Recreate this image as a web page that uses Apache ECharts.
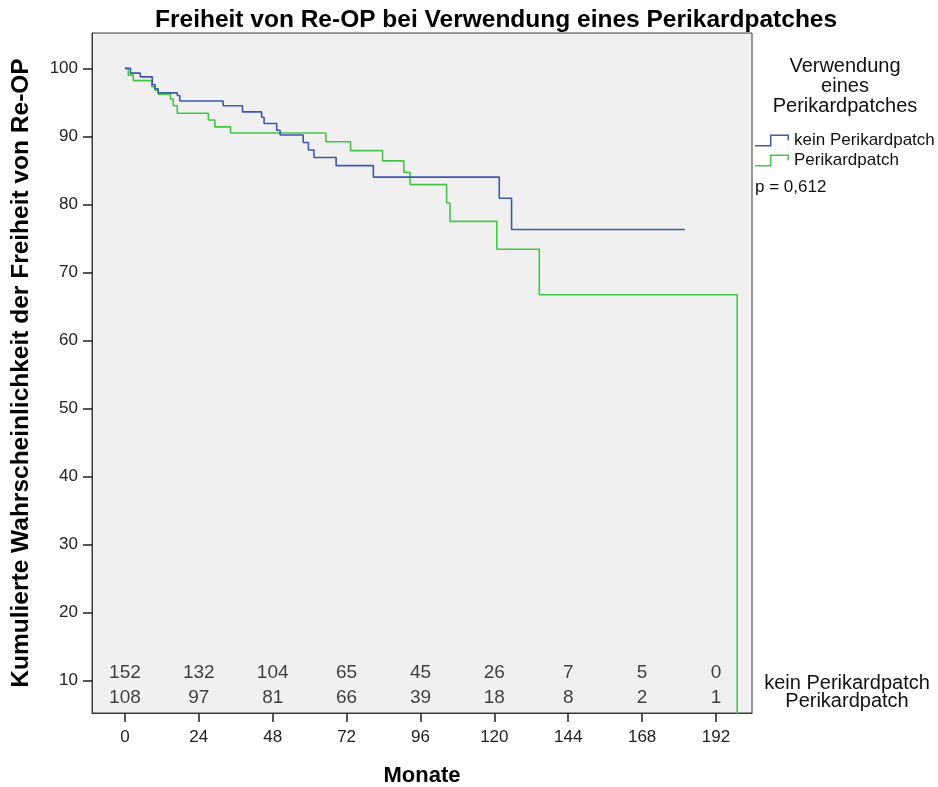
<!DOCTYPE html>
<html><head><meta charset="utf-8">
<script src="https://cdn.jsdelivr.net/npm/echarts@6/dist/echarts.min.js"></script>
<style>html,body{margin:0;padding:0;background:#fff}#c{width:938px;height:787px}</style>
</head><body><div id="c"></div>
<script>
// Kaplan-Meier steps (month of event, survival % after event)
const monthsNoPatch = [0, 1.8, 5.0, 8.9, 9.8, 10.8, 17.0, 17.8, 31.9, 38.2, 44.4, 45.2, 49.3, 50.4, 57.9, 59.6, 61.4, 68.6, 80.7, 121.6, 125.6, 181.9];
const survNoPatch   = [100, 99.3, 98.75, 97.6, 97.0, 96.4, 96.0, 95.2, 94.5, 93.6, 92.8, 91.9, 90.9, 90.2, 89.1, 88.0, 86.9, 85.7, 84.0, 80.9, 76.3, 76.3];
const monthsPatch = [0, 1.1, 2.7, 8.7, 9.7, 10.8, 14.8, 15.7, 17.0, 27.1, 29.2, 34.3, 65.3, 73.3, 83.7, 90.6, 92.6, 104.5, 105.6, 120.8, 134.6, 198.9];
const survPatch   = [100, 99.0, 98.2, 97.3, 96.8, 96.2, 95.5, 94.5, 93.4, 92.4, 91.4, 90.5, 89.2, 87.9, 86.4, 84.7, 82.9, 80.2, 77.5, 73.4, 66.7, 0];

const groupNames = ['kein Perikardpatch', 'Perikardpatch'];
const riskMonths  = [0, 24, 48, 72, 96, 120, 144, 168, 192];
const riskNoPatch = [152, 132, 104, 65, 45, 26, 7, 5, 0];
const riskPatch   = [108, 97, 81, 66, 39, 18, 8, 2, 1];
const xTicks = [0, 24, 48, 72, 96, 120, 144, 168, 192];
const yTicks = [10, 20, 30, 40, 50, 60, 70, 80, 90, 100];

const FONT = 'Liberation Sans, Arial, sans-serif';
const BLUE = '#3d58ac';
const GREEN = '#45c445';

const chart = echarts.init(document.getElementById('c'), null, {renderer: 'canvas'});
const stepIcon = 'path://M0,10.5 H15 V0 H34 V6 H32.5 V1.5 H16.5 V12 H0 Z';

function riskSeries(name, counts, yPos) {
  return {
    name: name, type: 'scatter', silent: true, symbolSize: 1,
    itemStyle: {color: 'rgba(0,0,0,0)'}, z: 5,
    data: riskMonths.map((m, i) => [m, yPos, counts[i]]),
    label: {show: true, position: 'inside', formatter: p => String(p.value[2]),
      color: '#111', fontSize: 19, fontFamily: FONT}
  };
}

chart.setOption({
  animation: false,
  backgroundColor: '#fff',
  title: {
    text: 'Freiheit von Re-OP bei Verwendung eines Perikardpatches',
    left: 155, top: 8, padding: 0,
    textStyle: {fontSize: 24.5, fontWeight: 'bold', color: '#000', fontFamily: FONT}
  },
  grid: {left: 92, top: 33, width: 660, height: 680, show: true, outerBoundsMode: 'none',
    containLabel: false,
    backgroundColor: '#f0f0f0', borderColor: '#3a3a3a', borderWidth: 1},
  legend: {
    data: groupNames, orient: 'vertical', left: 755, top: 132, padding: 0,
    itemWidth: 34, itemHeight: 12, itemGap: 3, icon: stepIcon,
    textStyle: {fontSize: 17, color: '#111', fontFamily: FONT}
  },
  xAxis: {
    type: 'value', min: -10.7, max: 203.7,
    name: 'Monate', nameLocation: 'middle', nameGap: 52,
    nameTextStyle: {fontSize: 22, fontWeight: 'bold', color: '#000', fontFamily: FONT},
    splitLine: {show: false},
    axisLine: {show: true, onZero: false, lineStyle: {color: '#3a3a3a'}},
    axisTick: {show: true, length: 9, customValues: xTicks, lineStyle: {color: '#222', width: 1.5}},
    axisLabel: {customValues: xTicks, margin: 16, fontSize: 17, color: '#222', fontFamily: FONT}
  },
  yAxis: {
    type: 'value', min: 5.2, max: 105.2,
    name: 'Kumulierte Wahrscheinlichkeit der Freiheit von Re-OP',
    nameLocation: 'middle', nameGap: 58,
    nameTextStyle: {fontSize: 24.5, fontWeight: 'bold', color: '#000', fontFamily: FONT},
    splitLine: {show: false},
    axisLine: {show: true, onZero: false, lineStyle: {color: '#3a3a3a'}},
    axisTick: {show: true, length: 9, customValues: yTicks, lineStyle: {color: '#222', width: 1.5}},
    axisLabel: {customValues: yTicks, margin: 14, fontSize: 17, color: '#222', fontFamily: FONT}
  },
  series: [
    {name: groupNames[0], type: 'line', step: 'end', symbol: 'none', color: BLUE,
      lineStyle: {width: 1.6, color: BLUE}, z: 3,
      data: monthsNoPatch.map((m, i) => [m, survNoPatch[i]])},
    {name: groupNames[1], type: 'line', step: 'end', symbol: 'none', color: GREEN,
      lineStyle: {width: 1.6, color: GREEN}, z: 2,
      data: monthsPatch.map((m, i) => [m, survPatch[i]])},
    riskSeries('n_' + groupNames[0], riskNoPatch, 11.15),
    riskSeries('n_' + groupNames[1], riskPatch, 7.45)
  ],
  graphic: [
    {type: 'text', x: 845, y: 56, silent: true,
      style: {text: 'Verwendung\neines\nPerikardpatches', textAlign: 'center', textVerticalAlign: 'top',
        fontSize: 20, lineHeight: 20, fill: '#111', fontFamily: FONT}},
    {type: 'text', x: 755, y: 187, silent: true,
      style: {text: 'p = 0,612', textAlign: 'left', textVerticalAlign: 'middle',
        fontSize: 17, fill: '#111', fontFamily: FONT}},
    {type: 'text', x: 847, y: 674, silent: true,
      style: {text: groupNames.join('\n'), textAlign: 'center', textVerticalAlign: 'top',
        fontSize: 20, lineHeight: 18, fill: '#111', fontFamily: FONT}}
  ]
});
</script></body></html>
